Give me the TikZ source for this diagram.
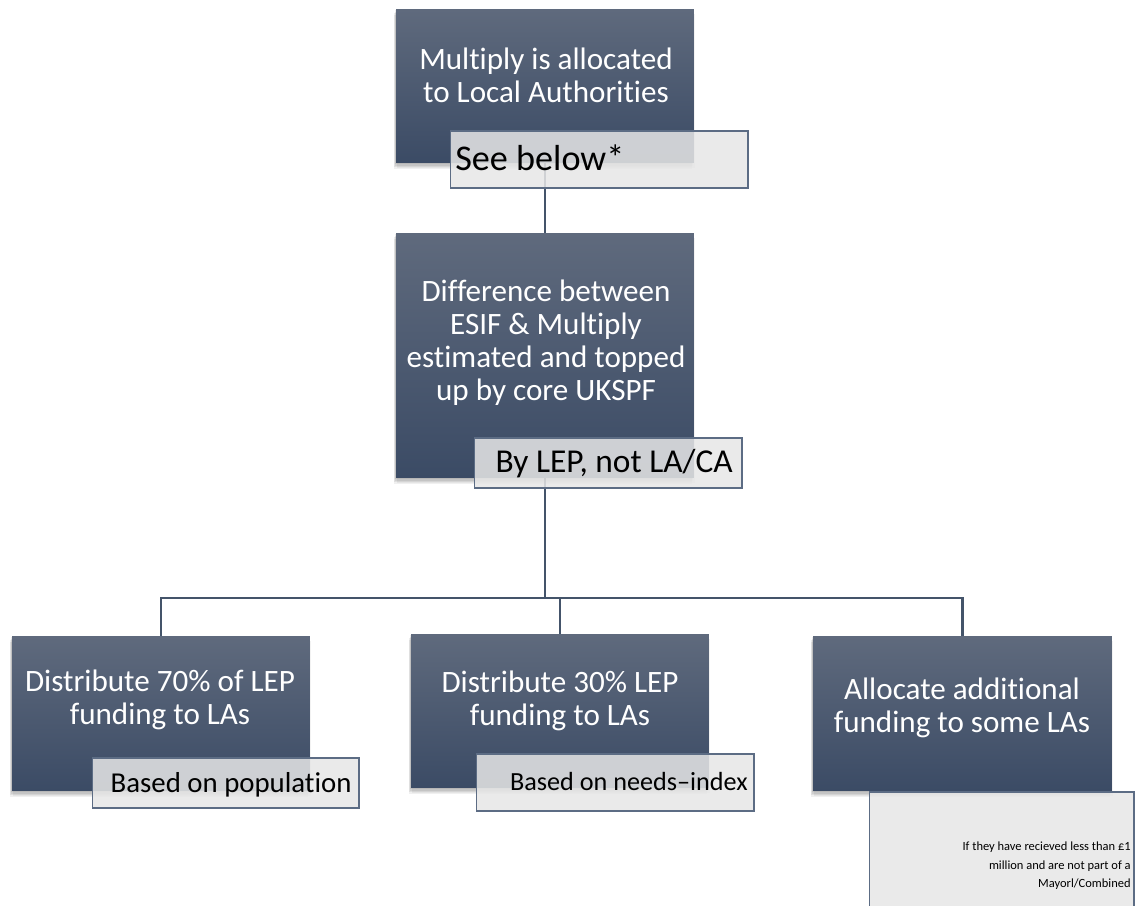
\documentclass[tikz,border=0pt]{standalone}
\usepackage{fontspec}
\setmainfont{Carlito}[Ligatures=CommonOff, RawFeature=-clig, RawFeature=-calt]
\usetikzlibrary{backgrounds}
\definecolor{boxtop}{RGB}{95,106,125}
\definecolor{boxbot}{RGB}{59,75,101}
\definecolor{lblfill}{RGB}{230,230,230}
\definecolor{lbldraw}{RGB}{92,108,132}
\definecolor{conncol}{RGB}{68,84,106}
\tikzset{
  softshadow/.style={
    preaction={fill=black, fill opacity=0.07, transform canvas={xshift=-0.4pt, yshift=-0.8pt}},
    preaction={fill=black, fill opacity=0.07, transform canvas={xshift=-0.8pt, yshift=-1.6pt}},
    preaction={fill=black, fill opacity=0.07, transform canvas={xshift=-1.2pt, yshift=-2.4pt}},
    preaction={fill=black, fill opacity=0.06, transform canvas={xshift=-1.0pt, yshift=-3.2pt}},
    preaction={fill=black, fill opacity=0.05, transform canvas={xshift=0.6pt, yshift=-3.0pt}}},
  mainbox/.style={rectangle, inner sep=0pt, softshadow, top color=boxtop, bottom color=boxbot},
  lblbox/.style={rectangle, inner sep=0pt, fill=lblfill, fill opacity=0.86, draw=lbldraw, line width=0.6pt},
  boxtext/.style={inner sep=0pt, text=white, align=center, font=\fontsize{17.7pt}{18.8pt}\selectfont},
  lbltext/.style={inner sep=0pt, text=black},
  conn/.style={draw=conncol, line width=1.4pt}
}
\begin{document}
\begin{tikzpicture}[x=0.02cm,y=-0.02cm]
\useasboundingbox (0,0) rectangle (1137,906);
% main boxes
\node[mainbox, minimum width=5.96cm, minimum height=3.08cm] (top) at (545,86) {};
\node[mainbox, minimum width=5.96cm, minimum height=4.90cm] (mid) at (545,355.5) {};
\node[mainbox, minimum width=5.96cm, minimum height=3.10cm] (bl) at (161,713.5) {};
\node[mainbox, minimum width=5.96cm, minimum height=3.08cm] (bm) at (560,711) {};
\node[mainbox, minimum width=5.98cm, minimum height=3.10cm] (br) at (962.5,713.5) {};
% box texts
\node[boxtext] (ttop) at (546,75.5) {Multiply is allocated\\to Local Authorities};
\node[boxtext] (tmid) at (546,343) {Difference between\\ESIF \& Multiply\\estimated and topped\\up by core UKSPF};
\node[boxtext] (tbl) at (160,699.5) {Distribute 70\% of LEP\\funding to LAs};
\node[boxtext] (tbm) at (560,700.5) {Distribute 30\% LEP\\funding to LAs};
\node[boxtext] (tbr) at (962,707.5) {Allocate additional\\funding to some LAs};
% connectors
\coordinate (j) at (545,598);
\begin{scope}[on background layer]
\draw[conn] (top.center) -- (mid.center);
\draw[conn] (mid.center) -- (j);
\draw[conn] (j) -| (bl.north);
\draw[conn] (j) -| (bm.north);
\draw[conn] (j) -| (br.north);
\end{scope}
% label boxes
\node[lblbox, minimum width=5.96cm, minimum height=1.14cm] (l1) at (599,159.5) {};
\node[lblbox, minimum width=5.36cm, minimum height=1.00cm] (l2) at (608,463) {};
\node[lblbox, minimum width=5.34cm, minimum height=1.00cm] (l3) at (225.5,783) {};
\node[lblbox, minimum width=5.56cm, minimum height=1.14cm] (l4) at (615,782.5) {};
\node[lblbox, minimum width=5.30cm, minimum height=2.40cm] (l5) at (1001.5,852) {};
% label texts
\node[lbltext, anchor=base west, font=\fontsize{20.6pt}{22pt}\selectfont] (t1) at (455,170) {See below*};
\node[lbltext, anchor=base east, font=\fontsize{19pt}{20pt}\selectfont] (t2) at (733,472) {By LEP, not LA/CA};
\node[lbltext, anchor=base east, font=\fontsize{16.4pt}{18pt}\selectfont] (t3) at (352,792) {Based on population};
\node[lbltext, anchor=base east, font=\fontsize{14.9pt}{16pt}\selectfont] (t4) at (748,790) {Based on needs–index};
\node[lbltext, anchor=east, align=right, font=\fontsize{7.1pt}{10.5pt}\selectfont] (t5) at (1131,866) {If they have recieved less than £1\\million and are not part of a\\Mayorl/Combined};
\end{tikzpicture}
\end{document}
